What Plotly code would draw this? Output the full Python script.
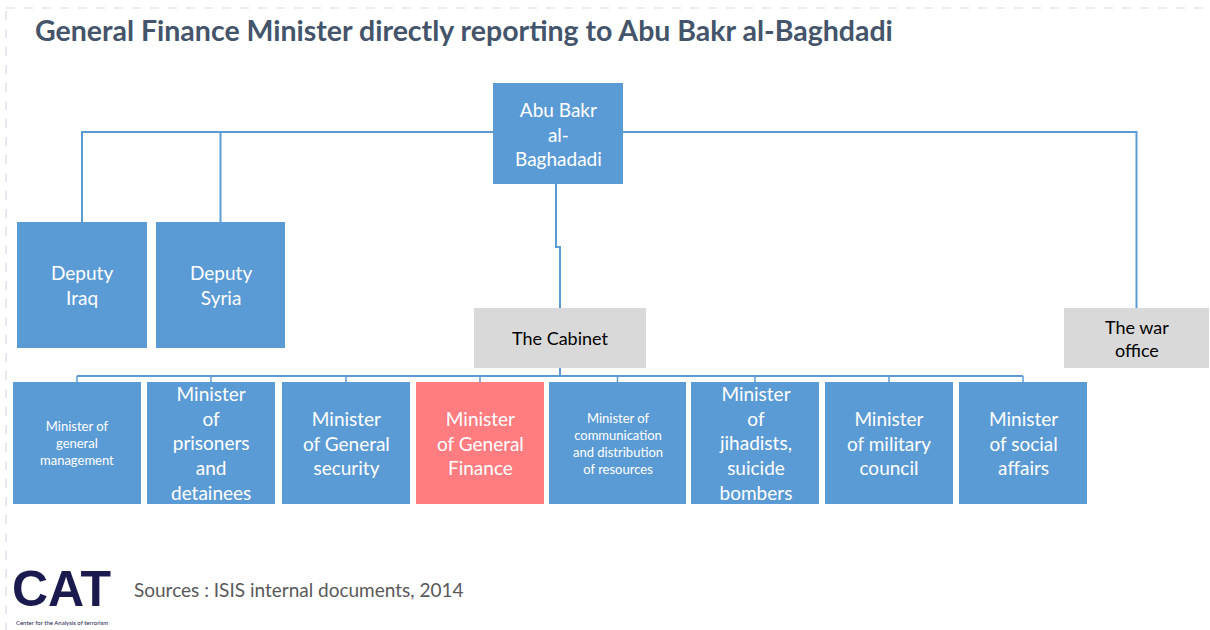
import plotly.graph_objects as go

# ---------------- data ----------------
title_text = "General Finance Minister directly reporting to Abu Bakr al-Baghdadi"
leader = "Abu Bakr<br>al-<br>Baghadadi"
deputies = ["Deputy<br>Iraq", "Deputy<br>Syria"]
cabinet = "The Cabinet"
war_office = "The war<br>office"
ministers = [
    "Minister of<br>general<br>management",
    "Minister<br>of<br>prisoners<br>and<br>detainees",
    "Minister<br>of General<br>security",
    "Minister<br>of General<br>Finance",
    "Minister of<br>communication<br>and distribution<br>of resources",
    "Minister<br>of<br>jihadists,<br>suicide<br>bombers",
    "Minister<br>of military<br>council",
    "Minister<br>of social<br>affairs",
]
minister_small_text = [True, False, False, False, True, False, False, False]
highlight = "Minister<br>of General<br>Finance"
source_text = "Sources : ISIS internal documents, 2014"
logo_text = "CAT"
logo_sub = "Center for the Analysis of terrorism"

# ---------------- layout / style ----------------
W, H = 1210, 630
BLUE = "#5B9BD5"
RED = "#FF7C80"
GRAY = "#D9D9D9"
LINE = "#5B9BD5"
FONT = "Lato, 'Open Sans', sans-serif"

leader_box = (493, 623, 83, 184)
deputy_boxes = [(17, 147, 222, 348), (156, 285, 222, 348)]
cabinet_box = (474, 646, 308, 368)
war_box = (1064, 1209, 308, 368)
minister_x = [(13, 141), (147, 275), (282, 410), (416, 544),
              (549, 686), (691, 819), (825, 953), (959, 1087)]
minister_y = (382, 504)
top_bus_y = 132
bottom_bus_y = 376

fig = go.Figure()
shapes = []
annotations = []


def add_box(box, fill, text, color, size):
    x0, x1, y0, y1 = box
    shapes.append(dict(type="rect", xref="x", yref="y", x0=x0, x1=x1, y0=y0, y1=y1,
                       fillcolor=fill, line=dict(width=0), layer="above"))
    annotations.append(dict(x=(x0 + x1) / 2, y=(y0 + y1) / 2, xref="x", yref="y",
                            text=text, showarrow=False, align="center",
                            font=dict(family=FONT, size=size, color=color)))


def add_line(pts, width=2):
    xs = [p[0] for p in pts]
    ys = [p[1] for p in pts]
    fig.add_trace(go.Scatter(x=xs, y=ys, mode="lines", hoverinfo="skip",
                             line=dict(color=LINE, width=width), showlegend=False))


# connectors
lx = (leader_box[0] + leader_box[1]) / 2
deputy_cx = [(b[0] + b[1]) / 2 for b in deputy_boxes]
war_cx = (war_box[0] + war_box[1]) / 2
add_line([(deputy_cx[0], deputy_boxes[0][2]), (deputy_cx[0], top_bus_y),
          (war_cx, top_bus_y), (war_cx, war_box[2])])
add_line([(deputy_cx[1], top_bus_y), (deputy_cx[1], deputy_boxes[1][2])])
cab_cx = (cabinet_box[0] + cabinet_box[1]) / 2
add_line([(lx - 2, leader_box[3]), (lx - 2, 247), (cab_cx, 247), (cab_cx, cabinet_box[2])])
add_line([(cab_cx, cabinet_box[3]), (cab_cx, bottom_bus_y)])
m_cx = [(a + b) / 2 for a, b in minister_x]
add_line([(m_cx[0], bottom_bus_y), (m_cx[-1], bottom_bus_y)])
for cx in m_cx:
    add_line([(cx, bottom_bus_y), (cx, minister_y[0])], width=1.5)

# boxes
add_box(leader_box, BLUE, leader, "white", 19)
for b, t in zip(deputy_boxes, deputies):
    add_box(b, BLUE, t, "white", 19)
add_box(cabinet_box, GRAY, cabinet, "black", 18)
add_box(war_box, GRAY, war_office, "black", 18)
for (x0, x1), t, small in zip(minister_x, ministers, minister_small_text):
    fill = RED if t == highlight else BLUE
    add_box((x0, x1, minister_y[0], minister_y[1]), fill, t, "white", 13 if small else 19)

# dashed frame
shapes.append(dict(type="rect", xref="x", yref="y", x0=6, x1=1216, y0=8, y1=640,
                   line=dict(color="#D5DBE3", width=1.2, dash="dash"), layer="below"))

# title
annotations.append(dict(x=33, y=30, xref="x", yref="y", xanchor="left", yanchor="middle",
                        text="<b>" + title_text + "</b>", showarrow=False,
                        font=dict(family=FONT, size=28.5, color="#44546A")))
# source
annotations.append(dict(x=132, y=589, xref="x", yref="y", xanchor="left", yanchor="middle",
                        text=source_text, showarrow=False,
                        font=dict(family=FONT, size=19, color="#595959")))
# logo
annotations.append(dict(x=61.5, y=589, xref="x", yref="y", xanchor="center", yanchor="middle",
                        text="<b>" + logo_text + "</b>", showarrow=False,
                        font=dict(family="'Liberation Sans', Arial, sans-serif",
                                  size=50, color="#1B1A4E")))
annotations.append(dict(x=61.5, y=622, xref="x", yref="y", xanchor="center", yanchor="middle",
                        text=logo_sub, showarrow=False,
                        font=dict(family=FONT, size=6, color="#1B1A4E")))

fig.update_layout(
    width=W, height=H, margin=dict(l=0, r=0, t=0, b=0),
    paper_bgcolor="white", plot_bgcolor="white",
    xaxis=dict(range=[0, W], visible=False, fixedrange=True),
    yaxis=dict(range=[H, 0], visible=False, fixedrange=True),
    shapes=shapes, annotations=annotations, showlegend=False,
)

fig.write_html("out.html", config={"displayModeBar": False},
               post_script="document.body.style.margin='0';document.body.style.overflow='hidden';")
